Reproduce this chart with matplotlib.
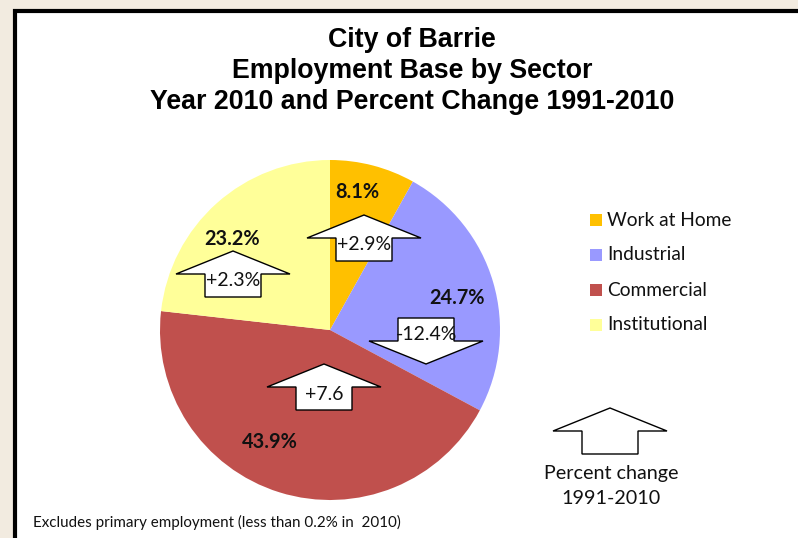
import matplotlib
matplotlib.use('Agg')
import matplotlib.pyplot as plt
from matplotlib.patches import Polygon, Rectangle

W, H = 798, 538

# Data: 2010 share of employment and percent change 1991-2010
sectors = ['Work at Home', 'Industrial', 'Commercial', 'Institutional']
shares = [8.1, 24.7, 43.9, 23.2]
changes = ['+2.9%', '-12.4%', '+7.6', '+2.3%']
colors = ['#FFC000', '#9999FF', '#C0504D', '#FFFF99']

# layout (pixel positions, y from top)
share_pos = [(357, 192), (457, 298), (270, 442), (232, 239)]
arrow_tip = [(364, 215), (426, 364), (324, 364), (233, 251)]

FONT = 'Lato'


def fy(y):
    return H - y


def block_arrow(ax, tip_x, tip_y, up=True, text=None):
    # tip in pixel coords (y from top); fixed arrow size
    hw, hh, sw, sh = 57, 23, 28, 23
    s = 1 if up else -1
    pts = [
        (tip_x, tip_y),
        (tip_x + hw, tip_y + s * hh),
        (tip_x + sw, tip_y + s * hh),
        (tip_x + sw, tip_y + s * (hh + sh)),
        (tip_x - sw, tip_y + s * (hh + sh)),
        (tip_x - sw, tip_y + s * hh),
        (tip_x - hw, tip_y + s * hh),
    ]
    ax.add_patch(Polygon([(x, fy(y)) for x, y in pts], closed=True,
                         facecolor='white', edgecolor='black', lw=1.0, zorder=5))
    if text:
        ty = tip_y + s * (hh + 7)
        ax.text(tip_x, fy(ty), text, ha='center', va='center', fontsize=14,
                family=FONT, color='#111111', zorder=6)


fig = plt.figure(figsize=(W / 100, H / 100), dpi=100)
fig.patch.set_facecolor('#F2EBE0')
ax = fig.add_axes([0, 0, 1, 1])
ax.set_axis_off()

# white panel with black frame
ax.add_patch(Rectangle((15, -10), W + 20, fy(11) + 10, facecolor='white',
                       edgecolor='black', lw=3, zorder=0))

ax.pie(shares, colors=colors, startangle=90, counterclock=False,
       center=(330, fy(330)), radius=170, frame=True,
       wedgeprops=dict(linewidth=0))

ax.set_xlim(0, W)
ax.set_ylim(0, H)
ax.set_aspect('auto')

for (x, y), v in zip(share_pos, shares):
    ax.text(x, fy(y), f'{v}%', ha='center', va='center', fontsize=14.3,
            fontweight='bold', family=FONT, color='#111111', zorder=4)

for (x, y), c in zip(arrow_tip, changes):
    block_arrow(ax, x, y, up=not c.startswith('-'), text=c)

# title
for i, line in enumerate(['City of Barrie', 'Employment Base by Sector',
                          'Year 2010 and Percent Change 1991-2010']):
    ax.text(412, fy(40 + 31 * i), line, ha='center', va='center', fontsize=19.3,
            fontweight='bold', family='Liberation Sans', color='black')

# legend
for i, (name, col) in enumerate(zip(sectors, colors)):
    yy = 220 + 35 * i
    ax.add_patch(Rectangle((590, fy(yy) - 6), 12, 12, facecolor=col,
                           edgecolor='none'))
    ax.text(607, fy(yy), name, ha='left', va='center', fontsize=13.8,
            family=FONT, color='#111111')

# key arrow
block_arrow(ax, 610, 408, up=True)
ax.text(611, fy(473), 'Percent change', ha='center', va='center',
        fontsize=14.2, family=FONT, color='#111111')
ax.text(611, fy(498), '1991-2010', ha='center', va='center',
        fontsize=14.2, family=FONT, color='#111111')

ax.text(33, fy(522), 'Excludes primary employment (less than 0.2% in  2010)',
        ha='left', va='center', fontsize=10.9, family=FONT, color='#111111')

fig.savefig('out.png', dpi=100, facecolor=fig.get_facecolor())
